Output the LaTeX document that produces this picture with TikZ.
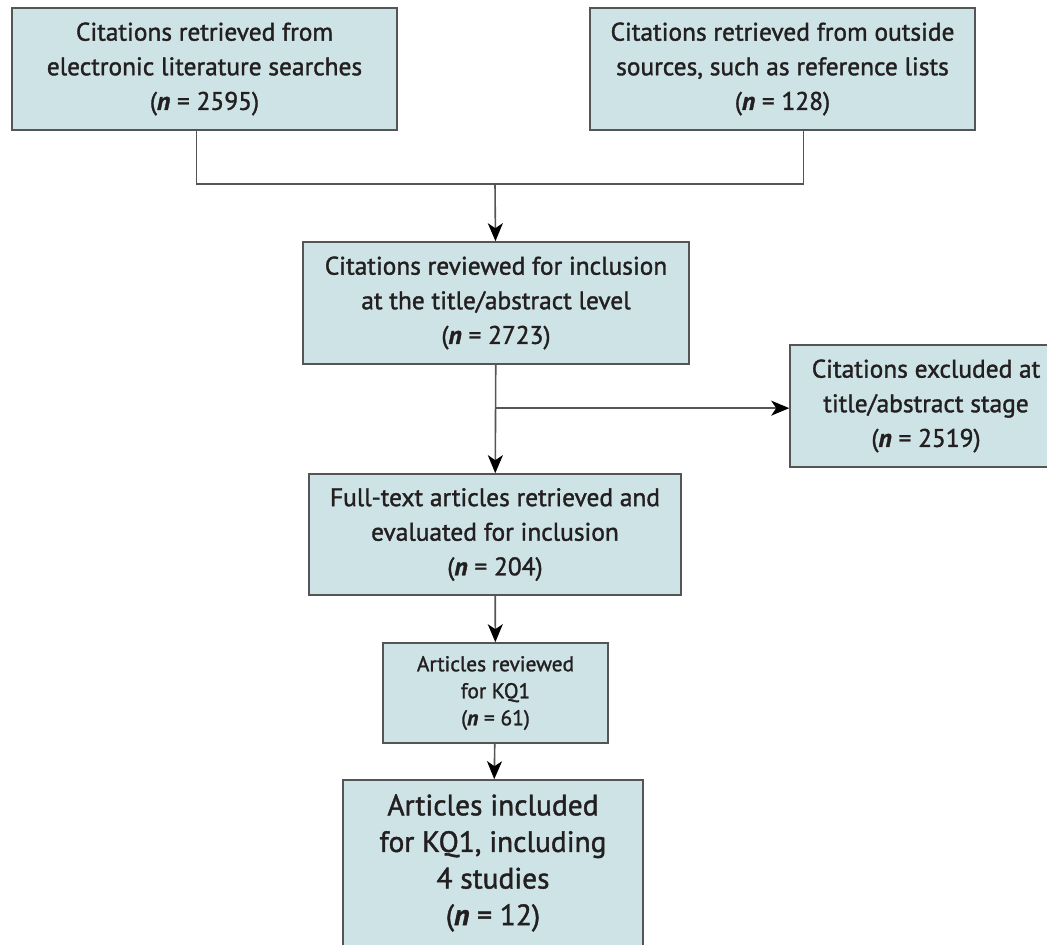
\documentclass[tikz,border=0pt]{standalone}
\usepackage{fontspec}
\setmainfont{PT Sans}[FakeBold=1.4]
\usepackage{tikz}
\usetikzlibrary{arrows.meta,positioning,calc}
\usepackage{xcolor}
\definecolor{boxfill}{RGB}{205,227,230}
\definecolor{boxline}{RGB}{85,85,85}
\definecolor{inktext}{RGB}{35,31,32}
\newcommand{\nn}[1]{(\textbf{\textit{n}} = #1)}

\begin{document}
\begin{tikzpicture}[
    x=0.5pt, y=-0.5pt,
    box/.style={rectangle, draw=boxline, fill=boxfill, line width=0.8pt, align=center, text=inktext,
        inner sep=2pt, font=\fontsize{12.7}{17.3}\selectfont, minimum height=61pt},
    link/.style={draw=boxline, line width=0.8pt},
    >={Stealth[length=9pt, width=7.5pt, inset=2.5pt, color=black]}
]
    \useasboundingbox (0,0) rectangle (1047,945);

    % top row
    \node[box, minimum width=192.5pt] (elec) at (204.5,69) {Citations retrieved from\\electronic literature searches\\\nn{2595}};
    \node[box, minimum width=192.5pt] (outside) at (782.5,69) {Citations retrieved from outside\\sources, such as reference lists\\\nn{128}};

    % screening
    \node[box, minimum width=193pt] (screen) at (496,303) {Citations reviewed for inclusion\\at the title/abstract level\\\nn{2723}};
    \node[box, minimum width=136pt] (excl) at (926,406) {Citations excluded at\\title/abstract stage\\\nn{2519}};
    \node[box, minimum width=186pt, minimum height=60.5pt] (fulltext) at (495,534.5) {Full-text articles retrieved and\\evaluated for inclusion\\\nn{204}};
    \node[box, minimum width=112.5pt, minimum height=50pt, font=\fontsize{10.7}{13.5}\selectfont] (kqrev) at (495.5,693) {Articles reviewed\\for KQ1\\\nn{61}};
    \node[box, minimum width=150pt, minimum height=83pt, font=\fontsize{14.7}{18.3}\selectfont] (kqinc) at (493,863) {Articles included\\for KQ1, including\\4 studies\\\nn{12}};

    \coordinate (join) at (495,184);
    \coordinate (split) at ($(screen.south)!0.4!(fulltext.north)$);

    \draw[link] ([xshift=-4pt]elec.south) |- (join) -| ([xshift=10.5pt]outside.south);
    \draw[link, ->] (join) -- (screen);
    \draw[link, ->] (screen) -- (fulltext);
    \draw[link, ->] (split) -- (split -| excl.west);
    \draw[link, ->] (fulltext) -- (kqrev);
    \draw[link, ->] (kqrev) -- (kqinc);
\end{tikzpicture}
\end{document}
